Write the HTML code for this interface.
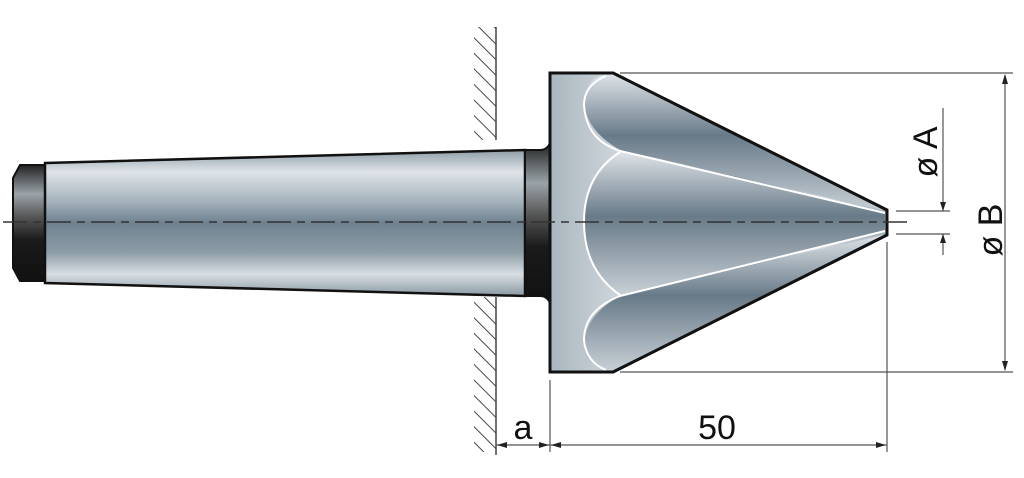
<!DOCTYPE html>
<html><head><style>html,body{margin:0;padding:0;background:#fff}svg{display:block}</style></head>
<body>
<svg width="1024" height="478" viewBox="0 0 1024 478" xmlns="http://www.w3.org/2000/svg">
<defs>
<linearGradient id="g" x1="0" y1="0" x2="0" y2="1">
<stop offset="0" stop-color="#8f9ea8"/><stop offset="0.15" stop-color="#dfe4e8"/><stop offset="0.35" stop-color="#a5b3bc"/><stop offset="0.5" stop-color="#6f8190"/><stop offset="0.7" stop-color="#8d9ca6"/><stop offset="0.85" stop-color="#d8dee2"/><stop offset="1" stop-color="#8a99a3"/>
</linearGradient>
<linearGradient id="fl" x1="0" y1="0" x2="1" y2="0">
<stop offset="0" stop-color="#a9b6be"/><stop offset="0.3" stop-color="#e0e5e8"/><stop offset="0.55" stop-color="#7d8e9a"/><stop offset="0.8" stop-color="#d0d7dc"/><stop offset="1" stop-color="#a0aeb7"/>
</linearGradient>
<linearGradient id="fa" x1="0" y1="0" x2="0" y2="1">
<stop offset="0" stop-color="#dfe4e8"/><stop offset="0.45" stop-color="#687a88"/><stop offset="1" stop-color="#c8d0d6"/>
</linearGradient>
<linearGradient id="dk" x1="0" y1="0" x2="0" y2="1">
<stop offset="0" stop-color="#222"/><stop offset="0.25" stop-color="#9aa3a8"/><stop offset="0.45" stop-color="#555"/><stop offset="0.65" stop-color="#1a1a1a"/><stop offset="1" stop-color="#111"/>
</linearGradient>
<pattern id="h" width="11" height="11" patternUnits="userSpaceOnUse" patternTransform="rotate(-45)">
<line x1="0" y1="0" x2="0" y2="11" stroke="#333" stroke-width="1.8"/>
</pattern>
</defs>
<rect x="474" y="27" width="22" height="113" fill="url(#h)"/>
<rect x="474" y="297" width="22" height="155" fill="url(#h)"/>
<line x1="496" y1="27" x2="496" y2="140" stroke="#444" stroke-width="1.5"/>
<line x1="496" y1="297" x2="496" y2="455" stroke="#444" stroke-width="1.5"/>
<path d="M20,165 L45,165 L45,281 L20,281 L13,268 L13,178 Z" fill="url(#dk)" stroke="#111" stroke-width="2"/>
<path d="M45,163 L525,150 L525,296 L45,283 Z" fill="url(#g)" stroke="#111" stroke-width="2.5"/>
<path d="M525,150 L540,150 Q547,150 550,143 L550,303 Q547,296 540,296 L525,296 Z" fill="url(#dk)" stroke="#111" stroke-width="2"/>
<path d="M550,73 L613,73 L887,210 L887,235 L613,372 L550,372 Z" fill="url(#fl)" stroke="#111" stroke-width="3"/>
<path d="M602,75 L613,74 L887,211 L620,150 Q585,130 584,100 Q586,80 602,75 Z" fill="url(#fa)"/>
<path d="M620,152 L885,213 L885,232 L620,295 Q584,270 584,222 Q584,175 620,152 Z" fill="url(#fa)"/>
<path d="M602,370 L613,371 L887,234 L620,296 Q585,315 584,345 Q586,365 602,370 Z" fill="url(#fa)"/>
<g fill="none" stroke="#fff" stroke-width="2">
<path d="M606,76 Q584,85 584,105 Q586,140 620,151 L885,213"/>
<path d="M885,231 L620,296 Q584,310 584,340 Q586,362 606,370"/>
<path d="M620,152 Q584,175 584,222 Q584,270 620,295"/>
</g>
<path d="M550,73 L613,73 L887,210 L887,235 L613,372 L550,372 Z" fill="none" stroke="#111" stroke-width="3"/>
<line x1="3" y1="222" x2="908" y2="222" stroke="#333" stroke-width="1.5" stroke-dasharray="24,6,8,6"/>
<g stroke="#555" stroke-width="1.2" fill="none">
<line x1="620" y1="73" x2="1013" y2="73"/>
<line x1="620" y1="372" x2="1013" y2="372"/>
<line x1="1005" y1="75" x2="1005" y2="370"/>
<line x1="896" y1="211" x2="950" y2="211"/>
<line x1="896" y1="234" x2="950" y2="234"/>
<line x1="943" y1="108" x2="943" y2="211"/>
<line x1="943" y1="234" x2="943" y2="255"/>
<line x1="550" y1="380" x2="550" y2="452"/>
<line x1="887" y1="242" x2="887" y2="452"/>
<line x1="496" y1="445" x2="550" y2="445"/>
<line x1="550" y1="445" x2="887" y2="445"/>
</g>
<g fill="#222">
<path d="M1005,74 l-3,10 h6 Z"/><path d="M1005,371 l-3,-10 h6 Z"/>
<path d="M943,211 l-3,-9 h6 Z"/><path d="M943,234 l-3,9 h6 Z"/>
<path d="M497,445 l10,-3 v6 Z"/><path d="M549,445 l-10,-3 v6 Z"/>
<path d="M551,445 l10,-3 v6 Z"/><path d="M886,445 l-10,-3 v6 Z"/>
</g>
<g font-family="Liberation Sans, sans-serif" font-size="34" fill="#111">
<text x="523" y="439" text-anchor="middle">a</text>
<text x="717" y="439" text-anchor="middle">50</text>
<text transform="translate(937,152) rotate(-90)" text-anchor="middle">ø A</text>
<text transform="translate(1002,230) rotate(-90)" text-anchor="middle">ø B</text>
</g>
</svg>
</body></html>
